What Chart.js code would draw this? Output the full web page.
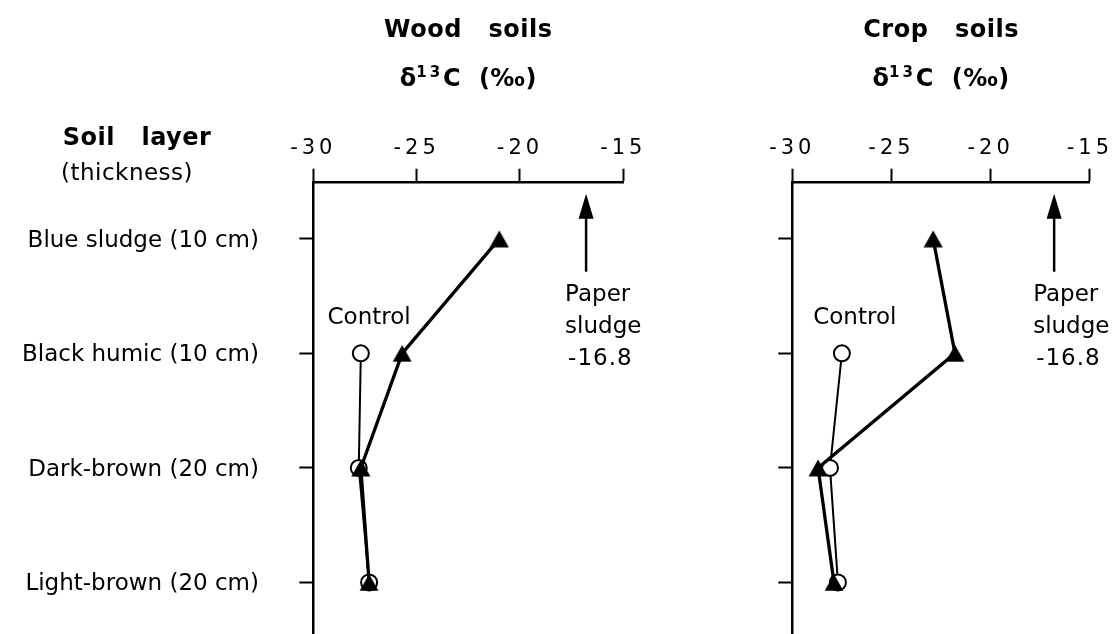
<!DOCTYPE html>
<html>
<head>
<meta charset="utf-8">
<script src="https://cdn.jsdelivr.net/npm/chart.js@4.4.0/dist/chart.umd.min.js"></script>
<style>
  html, body { margin: 0; padding: 0; background: #fff; overflow: hidden; }
  #wrap { position: relative; width: 1115px; height: 634px; }
  canvas { position: absolute; top: 0; }
  #woodChart { left: 0; }
  #cropChart { left: 700px; }
</style>
</head>
<body>
<div id="wrap">
  <canvas id="woodChart" width="680" height="634"></canvas>
  <canvas id="cropChart" width="415" height="634"></canvas>
</div>
<script>
// ================= Data =================
const layers = ['Blue sludge (10 cm)', 'Black humic (10 cm)', 'Dark-brown (20 cm)', 'Light-brown (20 cm)'];
const xTicks = [-30, -25, -20, -15];

const woodSludge  = [-21.0, -25.7, -27.7, -27.3];
const woodControl = [null, -27.7, -27.8, -27.3];
const cropSludge  = [-22.9, -21.8, -28.7, -27.9];
const cropControl = [null, -27.5, -28.1, -27.7];

const paperSludge = -16.8;

const FONT = '"DejaVu Sans", Verdana, sans-serif';

function toPoints(values) {
  return values.map((v, i) => (v === null ? null : { x: v, y: i })).filter(p => p);
}

// filled triangle centred on its bounding box (chart.js 'triangle' sits high)
function triangleMarker() {
  const cv = document.createElement('canvas');
  cv.width = 20; cv.height = 18;
  const c = cv.getContext('2d');
  c.fillStyle = '#000';
  c.beginPath();
  c.moveTo(10, 0.5);
  c.lineTo(0.5, 17.5);
  c.lineTo(19.5, 17.5);
  c.closePath();
  c.fill();
  return cv;
}

function drawText(ctx, text, x, y, font, align, spacing) {
  ctx.save();
  ctx.font = font;
  ctx.letterSpacing = spacing || '0px';
  ctx.textAlign = align || 'left';
  ctx.textBaseline = 'alphabetic';
  ctx.fillStyle = '#000';
  ctx.fillText(text, x, y);
  ctx.restore();
}

// ================= Panel =================
function makePanel(id, cfg) {
  const ctx = document.getElementById(id).getContext('2d');

  const textPlugin = {
    id: 'panelText',
    beforeDraw(chart) { chart.ctx.letterSpacing = '4px'; },
    afterDraw(chart) {
      const c = chart.ctx;
      c.letterSpacing = '0px';
      const xs = chart.scales.x, ys = chart.scales.y;
      const area = chart.chartArea;
      const mid = (area.left + area.right) / 2;

      // titles
      drawText(c, cfg.title, mid, 37, 'bold 24px ' + FONT, 'center', '0.5px');
      const parts = [
        { t: 'δ', f: 'bold 24px ' + FONT, dy: 0, ls: '0px' },
        { t: '13', f: 'bold 15px ' + FONT, dy: -9, ls: '3px' },
        { t: 'C  (‰)', f: 'bold 24px ' + FONT, dy: 0, ls: '0.5px' }
      ];
      let total = 0;
      parts.forEach(p => {
        c.save(); c.font = p.f; c.letterSpacing = p.ls;
        p.w = c.measureText(p.t).width; c.restore();
        total += p.w;
      });
      let px = mid - total / 2;
      parts.forEach(p => { drawText(c, p.t, px, 86 + p.dy, p.f, 'left', p.ls); px += p.w; });

      // row labels (left panel only)
      if (cfg.rowLabels) {
        drawText(c, 'Soil   layer', 137, 145, 'bold 24px ' + FONT, 'center', '0.5px');
        drawText(c, '(thickness)', 127, 180, '23px ' + FONT, 'center', '0.5px');
        layers.forEach((l, i) => {
          drawText(c, l, 259, ys.getPixelForValue(i) + 8, '23px ' + FONT, 'right');
        });
      }

      // control label
      drawText(c, 'Control', xs.getPixelForValue(cfg.controlLabelX), ys.getPixelForValue(1) - 29,
               '23px ' + FONT, 'center');

      // paper sludge arrow
      const ax = xs.getPixelForValue(paperSludge);
      const tip = area.top + 11;
      c.save();
      c.strokeStyle = '#000';
      c.fillStyle = '#000';
      c.lineWidth = 2.5;
      c.beginPath();
      c.moveTo(ax, area.top + 89);
      c.lineTo(ax, tip + 20);
      c.stroke();
      c.beginPath();
      c.moveTo(ax, tip);
      c.lineTo(ax - 7.5, tip + 25);
      c.lineTo(ax + 7.5, tip + 25);
      c.closePath();
      c.fill();
      c.restore();

      drawText(c, 'Paper', ax - 21, 301, '23px ' + FONT, 'left');
      drawText(c, 'sludge', ax - 21, 333, '23px ' + FONT, 'left');
      drawText(c, '-' + Math.abs(paperSludge).toFixed(1), ax - 18, 365, '23px ' + FONT, 'left', '1px');
    }
  };

  const tri = triangleMarker();

  return new Chart(ctx, {
    type: 'line',
    data: {
      datasets: [
        {
          label: 'Paper sludge',
          data: toPoints(cfg.sludge),
          order: 0,
          borderColor: '#000',
          borderWidth: 3.3,
          pointStyle: tri,
          pointRadius: 10,
          pointBackgroundColor: '#000',
          pointBorderColor: '#000'
        },
        {
          label: 'Control',
          data: toPoints(cfg.control),
          order: 1,
          borderColor: '#000',
          borderWidth: 2,
          pointStyle: 'circle',
          pointRadius: 8,
          pointBackgroundColor: '#fff',
          pointBorderColor: '#000',
          pointBorderWidth: 2
        }
      ]
    },
    options: {
      responsive: false,
      animation: false,
      layout: { autoPadding: false, padding: { left: 0, top: 0, right: cfg.padRight, bottom: 0 } },
      plugins: { legend: { display: false }, tooltip: { enabled: false } },
      scales: {
        x: {
          type: 'linear',
          position: 'top',
          min: -30, max: -15,
          afterBuildTicks: s => { s.ticks = xTicks.map(v => ({ value: v })); },
          afterFit: s => { s.height = 182.7; },
          grid: { drawOnChartArea: false, drawTicks: true, tickLength: 14, tickWidth: 2, color: '#000' },
          border: { display: true, color: '#000', width: 2.5 },
          ticks: { color: '#000', padding: 8, maxRotation: 0, autoSkip: false,
                   font: { family: FONT, size: 21 } }
        },
        y: {
          type: 'linear',
          reverse: true,
          min: -0.49, max: 3.45,
          afterBuildTicks: s => { s.ticks = layers.map((_, i) => ({ value: i })); },
          afterFit: s => { s.width = cfg.axisLeft; },
          grid: { drawOnChartArea: false, drawTicks: true, tickLength: 14, tickWidth: 2, color: '#000' },
          border: { display: true, color: '#000', width: 2.5 },
          ticks: { display: false }
        }
      }
    },
    plugins: [textPlugin]
  });
}

document.addEventListener('DOMContentLoaded', () => {
  makePanel('woodChart', {
    title: 'Wood   soils', sludge: woodSludge, control: woodControl,
    axisLeft: 313.3, padRight: 680 - 623.3, rowLabels: true, controlLabelX: -27.3
  });
  makePanel('cropChart', {
    title: 'Crop   soils', sludge: cropSludge, control: cropControl,
    axisLeft: 92.3, padRight: 415 - 392.3, rowLabels: false, controlLabelX: -26.85
  });
});
</script>
</body>
</html>
